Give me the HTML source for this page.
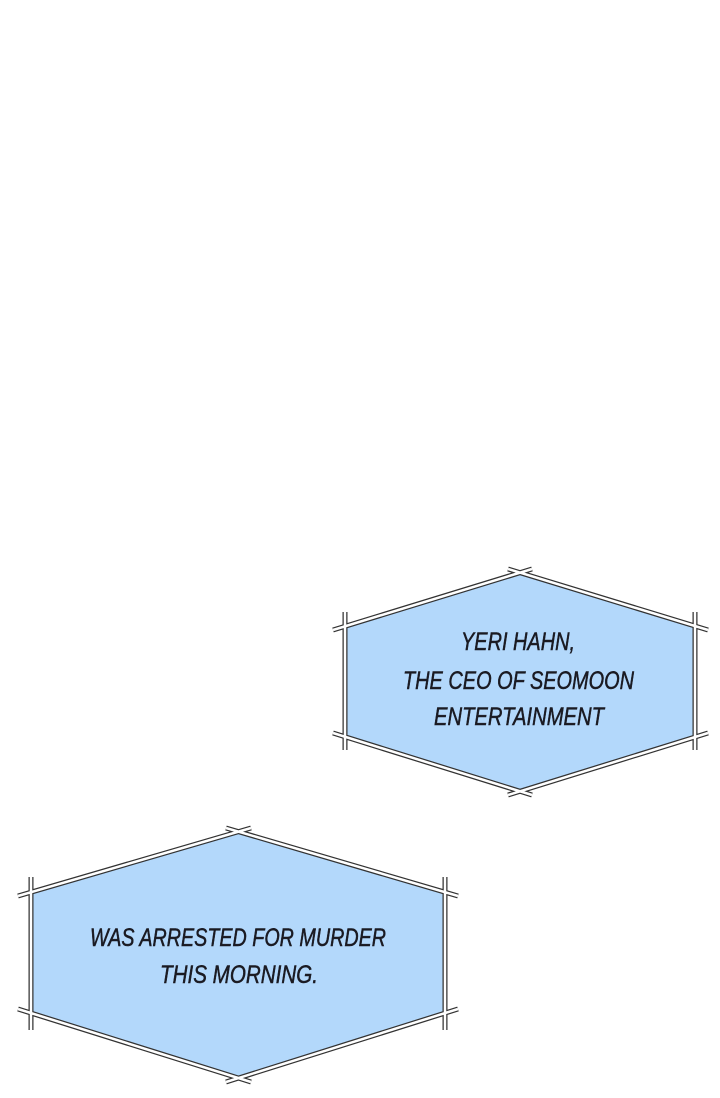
<!DOCTYPE html>
<html><head><meta charset="utf-8"><style>
html,body{margin:0;padding:0;background:#fff;width:720px;height:1098px;overflow:hidden}
svg{display:block}
text{font-family:"Liberation Sans Narrow","Liberation Sans",sans-serif;font-style:italic;fill:#1a1a22;stroke:#1a1a22;stroke-width:0.5;font-size:25px}
.o{stroke:#333;stroke-width:5;fill:none}
.i{stroke:#fff;stroke-width:2.5;fill:none}
</style></head><body>
<svg width="720" height="1098" viewBox="0 0 720 1098">
<polygon points="520,572 345,625 345,738 520,790 695,738 695,625" fill="#b3d8fb"/>
<g class="o">
<path d="M333,630 L532,569 M508,569 L708,630 M345,612 L345,750 M695,612 L695,750 M333,733 L532,795 M508,795 L708,733"/>
</g>
<g class="i">
<path d="M333,630 L532,569 M508,569 L708,630 M345,612 L345,750 M695,612 L695,750 M333,733 L532,795 M508,795 L708,733"/>
</g>
<text x="461" y="650" textLength="114" lengthAdjust="spacingAndGlyphs">YERI HAHN,</text>
<text x="403" y="689" textLength="231" lengthAdjust="spacingAndGlyphs">THE CEO OF SEOMOON</text>
<text x="434" y="725" textLength="170" lengthAdjust="spacingAndGlyphs">ENTERTAINMENT</text>

<polygon points="238,832 31,891 31,1014 238,1077 445,1014 445,891" fill="#b3d8fb"/>
<g class="o">
<path d="M18,896 L251,828 M226,828 L458,896 M31,877 L31,1030 M445,877 L445,1030 M18,1009 L251,1082 M226,1082 L458,1009"/>
</g>
<g class="i">
<path d="M18,896 L251,828 M226,828 L458,896 M31,877 L31,1030 M445,877 L445,1030 M18,1009 L251,1082 M226,1082 L458,1009"/>
</g>
<text x="90" y="946" textLength="296" lengthAdjust="spacingAndGlyphs">WAS ARRESTED FOR MURDER</text>
<text x="160" y="983" textLength="158" lengthAdjust="spacingAndGlyphs">THIS MORNING.</text>
</svg>
</body></html>
